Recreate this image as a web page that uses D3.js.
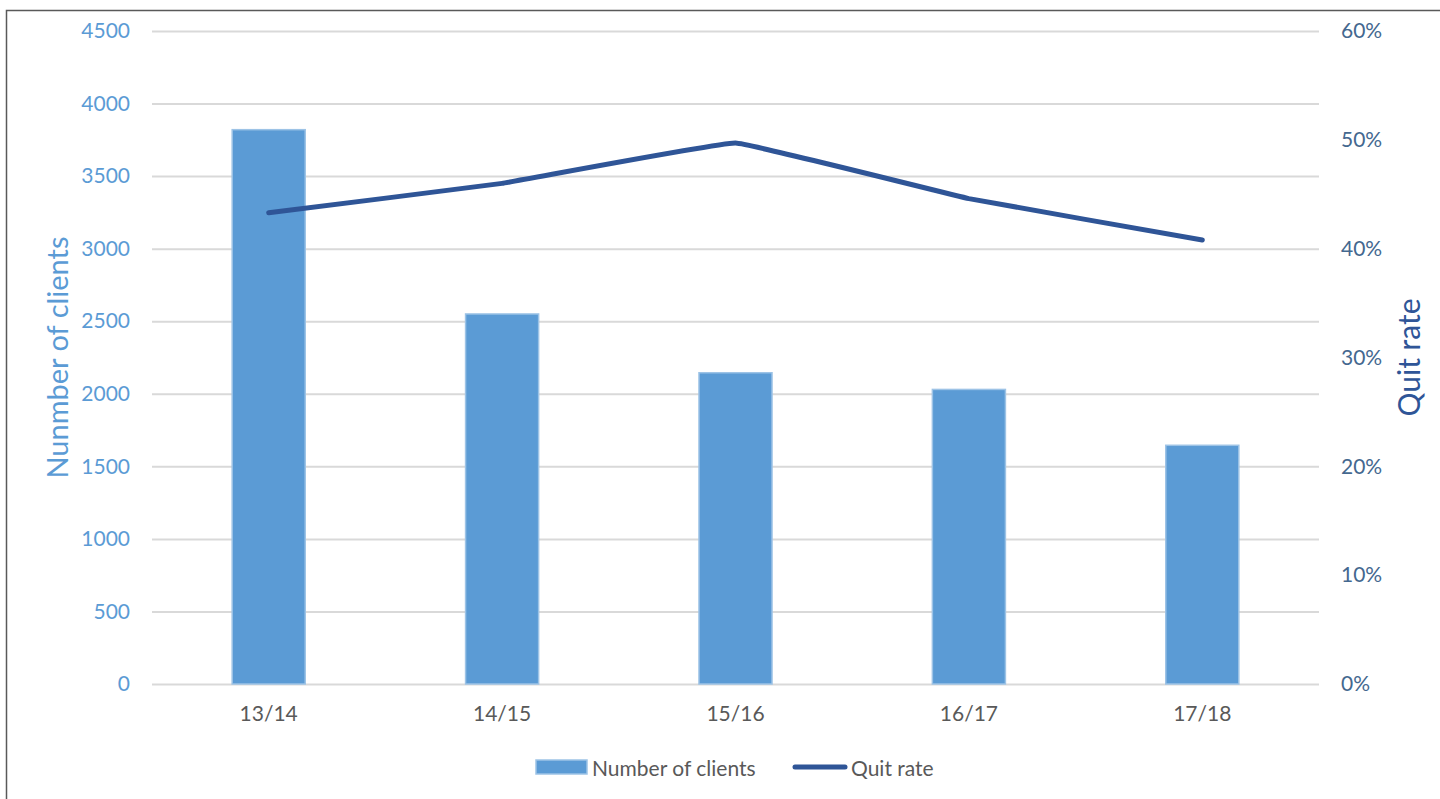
<!DOCTYPE html>
<html>
<head>
<meta charset="utf-8">
<title>Number of clients and quit rate</title>
<script src="https://cdn.jsdelivr.net/npm/d3@7/dist/d3.min.js"></script>
<style type="text/css">
	body {
		margin: 0;
		background: #fff;
	}
	svg text {
		font-family: Lato, "Open Sans", sans-serif;
	}
	.grid line {
		stroke: #d9d9d9;
		stroke-width: 2px;
	}
	.grid path {
		display: none;
	}
</style>
</head>
<body>
<script type="text/javascript">

var years = ["13/14", "14/15", "15/16", "16/17", "17/18"];
var clients = [3820, 2550, 2145, 2030, 1645];
var quitRate = [0.433, 0.46, 0.497, 0.446, 0.408];
var leftTicks = [0, 500, 1000, 1500, 2000, 2500, 3000, 3500, 4000, 4500];
var rightTicks = [0, 0.1, 0.2, 0.3, 0.4, 0.5, 0.6];

var width = 1440,
    height = 799;
var margin = {top: 31, right: 121, bottom: 115, left: 152};

var svg = d3.select("body").append("svg")
	.attr("width", width)
	.attr("height", height);

// outer frame, only the left and top edges show
svg.append("rect")
	.attr("x", 6.5).attr("y", 10.5)
	.attr("width", width).attr("height", height)
	.attr("fill", "none")
	.attr("stroke", "#595959")
	.attr("stroke-width", 1.5);

var x = d3.scaleBand()
	.domain(years)
	.range([margin.left, width - margin.right])
	.paddingInner(0.687)
	.paddingOuter(0.3435);

var y = d3.scaleLinear()
	.domain([0, 4500])
	.range([height - margin.bottom, margin.top]);

var y2 = d3.scaleLinear()
	.domain([0, 0.6])
	.range([height - margin.bottom, margin.top]);

// gridlines
svg.append("g")
	.attr("class", "grid")
	.attr("transform", "translate(" + margin.left + ",0)")
	.call(d3.axisLeft(y).tickValues(leftTicks)
		.tickSize(-(width - margin.right - margin.left)).tickFormat(""));

// bars
svg.selectAll("rect.bar")
	.data(clients).enter()
	.append("rect")
	.attr("class", "bar")
	.attr("x", function(d, i) { return x(years[i]); })
	.attr("y", function(d) { return y(d); })
	.attr("width", x.bandwidth())
	.attr("height", function(d) { return y(0) - y(d); })
	.attr("fill", "#5b9bd5")
	.attr("stroke", "#9dc3e6")
	.attr("stroke-width", 1.5);

// quit rate line
var line = d3.line()
	.x(function(d, i) { return x(years[i]) + x.bandwidth() / 2; })
	.y(function(d) { return y2(d); })
	.curve(d3.curveCardinal.tension(0.8));

svg.append("path")
	.datum(quitRate)
	.attr("d", line)
	.attr("fill", "none")
	.attr("stroke", "#2f5597")
	.attr("stroke-width", 5)
	.attr("stroke-linecap", "round")
	.attr("stroke-linejoin", "round");

// left axis
var gl = svg.append("g")
	.attr("transform", "translate(" + margin.left + ",0)")
	.call(d3.axisLeft(y).tickValues(leftTicks).tickSize(0).tickPadding(22)
		.tickFormat(d3.format("d")));
gl.select(".domain").remove();
gl.selectAll("text")
	.attr("fill", "#5b9bd5")
	.style("font-size", "21px");

// right axis
var gr = svg.append("g")
	.attr("transform", "translate(" + (width - margin.right) + ",0)")
	.call(d3.axisRight(y2).tickValues(rightTicks).tickSize(0).tickPadding(22)
		.tickFormat(d3.format(".0%")));
gr.select(".domain").remove();
gr.selectAll("text")
	.attr("fill", "#44688f")
	.style("font-size", "21px");

// x axis
var gx = svg.append("g")
	.attr("transform", "translate(0," + (height - margin.bottom) + ")")
	.call(d3.axisBottom(x).tickSize(0).tickPadding(22));
gx.select(".domain").remove();
gx.selectAll("text")
	.attr("fill", "#595959")
	.style("font-size", "21px");

// axis titles
var midY = (y.range()[0] + y.range()[1]) / 2;
svg.append("text")
	.attr("transform", "translate(56," + midY + ") rotate(-90)")
	.attr("text-anchor", "middle")
	.attr("dominant-baseline", "central")
	.attr("fill", "#5b9bd5")
	.style("font-size", "29px")
	.text("Nunmber of clients");

svg.append("text")
	.attr("transform", "translate(1408," + midY + ") rotate(-90)")
	.attr("text-anchor", "middle")
	.attr("dominant-baseline", "central")
	.attr("fill", "#2f5597")
	.style("font-size", "30px")
	.text("Quit rate");

// legend
var lg = svg.append("g").attr("transform", "translate(536,767)");
lg.append("rect")
	.attr("x", 0).attr("y", -7)
	.attr("width", 51).attr("height", 14)
	.attr("fill", "#5b9bd5")
	.attr("stroke", "#9dc3e6")
	.attr("stroke-width", 1.5);
lg.append("text")
	.attr("x", 56).attr("y", 0)
	.attr("dominant-baseline", "central")
	.attr("fill", "#595959")
	.style("font-size", "21px")
	.text("Number of clients");
lg.append("line")
	.attr("x1", 259).attr("x2", 309)
	.attr("y1", 0).attr("y2", 0)
	.attr("stroke", "#2f5597")
	.attr("stroke-width", 5)
	.attr("stroke-linecap", "round");
lg.append("text")
	.attr("x", 315).attr("y", 0)
	.attr("dominant-baseline", "central")
	.attr("fill", "#595959")
	.style("font-size", "21px")
	.text("Quit rate");

</script>
</body>
</html>
